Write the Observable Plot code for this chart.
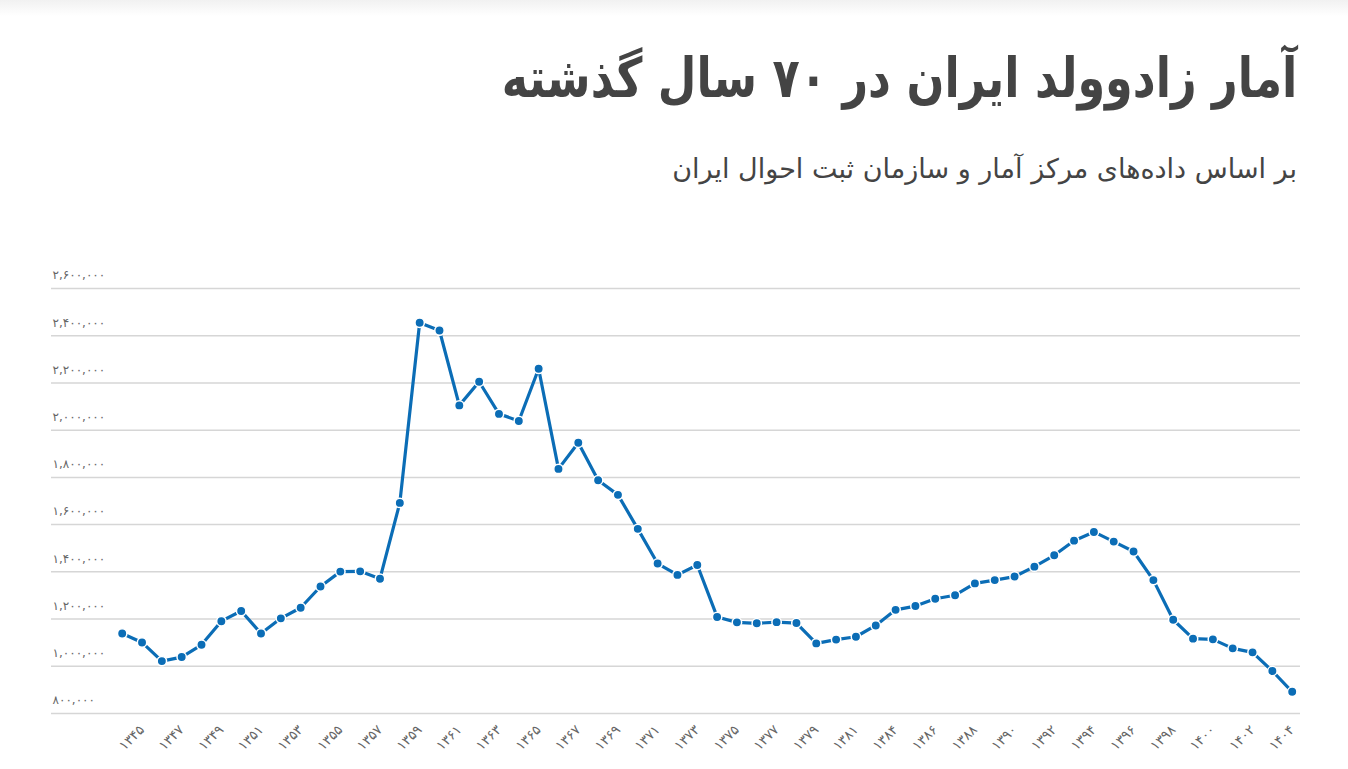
<!DOCTYPE html>
<html>
<head>
<meta charset="utf-8">
<script src="https://cdn.jsdelivr.net/npm/d3@7"></script>
<script src="https://cdn.jsdelivr.net/npm/@observablehq/plot@0.6"></script>
<style>
  html, body { margin: 0; padding: 0; background: #fff; }
  #wrap { position: relative; width: 1348px; height: 769px; overflow: hidden; font-family: "DejaVu Sans", sans-serif; }
  #topbar { position: absolute; left: 0; top: 0; width: 1348px; height: 16px; background: linear-gradient(#f1f1f1, #ffffff); }
  #title { position: absolute; right: 51px; top: 36px; direction: rtl; text-align: right; font-size: 55px; font-weight: bold; color: #444; white-space: nowrap; line-height: 84px; transform: scaleX(0.81); transform-origin: right center; }
  #subtitle { position: absolute; right: 51px; top: 149px; direction: rtl; text-align: right; font-size: 27px; color: #444; white-space: nowrap; line-height: 40px; }
  #chart { position: absolute; left: 0; top: 230px; }
</style>
</head>
<body>
<div id="wrap">
  <div id="topbar"></div>
  <div id="title"></div>
  <div id="subtitle"></div>
  <div id="chart"></div>
</div>
<script>
const titleText = "آمار زادوولد ایران در ۷۰ سال گذشته";
const subtitleText = "بر اساس داده‌های مرکز آمار و سازمان ثبت احوال ایران";

const years = [
  1344, 1345, 1346, 1347, 1348, 1349, 1350, 1351, 1352, 1353,
  1354, 1355, 1356, 1357, 1358, 1359, 1360, 1361, 1362, 1363,
  1364, 1365, 1366, 1367, 1368, 1369, 1370, 1371, 1372, 1373,
  1374, 1375, 1376, 1377, 1378, 1379, 1380, 1381, 1382, 1384,
  1385, 1386, 1387, 1388, 1389, 1390, 1391, 1392, 1393, 1394,
  1395, 1396, 1397, 1398, 1399, 1400, 1401, 1402, 1403, 1404
];
const births = [
  1139000, 1101000, 1022000, 1039000, 1091000, 1191000, 1234000, 1139000, 1203000, 1248000,
  1338000, 1401000, 1402000, 1371000, 1692000, 2455000, 2422000, 2105000, 2205000, 2069000,
  2039000, 2260000, 1836000, 1947000, 1788000, 1726000, 1582000, 1435000, 1387000, 1429000,
  1209000, 1186000, 1182000, 1187000, 1183000, 1097000, 1113000, 1125000, 1173000, 1239000,
  1255000, 1286000, 1301000, 1351000, 1365000, 1380000, 1422000, 1470000, 1532000, 1569000,
  1528000, 1486000, 1365000, 1197000, 1117000, 1114000, 1076000, 1059000, 980000, 892000
];
const yTicks = [800000, 1000000, 1200000, 1400000, 1600000, 1800000, 2000000, 2200000, 2400000, 2600000];
const xTickYears = years.filter((d, i) => i % 2 === 1);

const faDigits = "۰۱۲۳۴۵۶۷۸۹";
const toFa = s => String(s).replace(/[0-9]/g, d => faDigits[+d]);
const fmtNum = v => toFa(d3.format(",")(v));

document.getElementById("title").textContent = titleText;
document.getElementById("subtitle").textContent = subtitleText;

const data = years.map((y, i) => ({year: String(y), births: births[i]}));
const lineColor = "#0b6db6";

const chart = Plot.plot({
  width: 1348,
  height: 539,
  marginLeft: 121.7,
  marginRight: 56.3,
  marginTop: 58,
  marginBottom: 56,
  style: {fontFamily: "DejaVu Sans, sans-serif", color: "#666", background: "transparent"},
  x: {type: "point", domain: years.map(String), padding: 0, label: null},
  y: {domain: [800000, 2600000], label: null},
  marks: [
    Plot.ruleY(yTicks, {stroke: "#d6d6d6", strokeWidth: 1.5, insetLeft: -70.7, insetRight: -8.3}),
    Plot.axisY({ticks: yTicks, tickSize: 0, tickFormat: fmtNum, textAnchor: "start", dx: -60.7, dy: -13, fontSize: 12, fill: "#666"}),
    Plot.axisX({ticks: xTickYears.map(String), tickSize: 0, tickPadding: 14, tickRotate: -45, tickFormat: d => toFa(d), fontSize: 13.5, fill: "#666"}),
    Plot.line(data, {x: "year", y: "births", stroke: lineColor, strokeWidth: 3.2}),
    Plot.dot(data, {x: "year", y: "births", r: 4.7, fill: lineColor, stroke: "#fff", strokeWidth: 1.5})
  ]
});
document.getElementById("chart").appendChild(chart);
</script>
</body>
</html>
